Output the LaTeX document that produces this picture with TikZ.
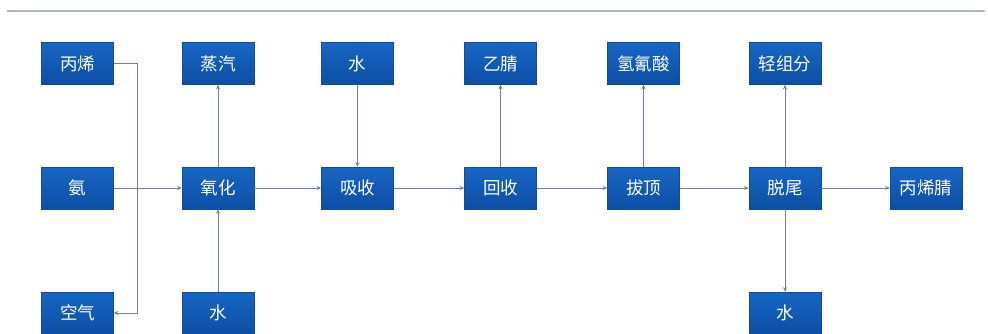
\documentclass[tikz,border=0pt]{standalone}
\usepackage{fontspec}
\newfontfamily\cjk{Noto Sans CJK SC}
\usepackage{xcolor}
\usetikzlibrary{calc}
\usetikzlibrary{arrows.meta}
\definecolor{boxblue}{HTML}{1766C4}
\definecolor{boxdark}{HTML}{0D4EA4}
\definecolor{linkgray}{HTML}{6E7FAE}
\definecolor{rulegray}{HTML}{A9B8C8}

\begin{document}
\begin{tikzpicture}[x = 1pt, y = -1pt]
				    \tikzstyle{step box}=[draw=boxdark,line width = .6pt,top color=boxblue,bottom color=boxdark,minimum width = 72pt,minimum height = 42pt,inner sep = 0pt,text=white,font=\cjk\fontsize{17.5}{17.5}\selectfont]
				    \tikzstyle{link}=[draw,line width = 1pt,linkgray,-{Stealth[length=4.5pt,width=4pt]}]
				    \useasboundingbox (0,0) rectangle (988,333);
				    \draw[rulegray,line width = 2.2pt] (7,11) -- (985,11);
				    % inputs
				    \node[step box] (propene) at (77.5,63.5) {丙烯};
				    \node[step box] (ammonia) at (77.5,188) {氨};
				    \node[step box] (air) at (77.5,313) {空气};
				    % main line
				    \node[step box] (oxid) at (218,188) {氧化};
				    \node[step box] (absorb) at (357.5,188) {吸收};
				    \node[step box] (recover) at (500.5,188) {回收};
				    \node[step box] (strip) at (643.5,188) {拔顶};
				    \node[step box] (tail) at (785,188) {脱尾};
				    \node[step box] (acn) at (926,188) {丙烯腈};
				    % side streams
				    \node[step box] (steam) at (218,63.5) {蒸汽};
				    \node[step box] (waterA) at (218,313) {水};
				    \node[step box] (waterB) at (357.5,63.5) {水};
				    \node[step box] (acetonitrile) at (500.5,63.5) {乙腈};
				    \node[step box] (hcn) at (643.5,63.5) {氢氰酸};
				    \node[step box] (light) at (785,63.5) {轻组分};
				    \node[step box] (waterC) at (785,313) {水};
				    \coordinate (bendT) at (137,63.5);
				    \coordinate (bendB) at (137,313);
				    \draw[link] (propene.east) -- (bendT) -- (bendB) -- (air.east);
				    \draw[link] (ammonia) -- (oxid);
				    \draw[link] (oxid) -- (steam);
				    \draw[link] (waterA) -- (oxid);
				    \draw[link] (oxid) -- (absorb);
				    \draw[link] (waterB) -- (absorb);
				    \draw[link] (absorb) -- (recover);
				    \draw[link] (recover) -- (acetonitrile);
				    \draw[link] (recover) -- (strip);
				    \draw[link] (strip) -- (hcn);
				    \draw[link] (strip) -- (tail);
				    \draw[link] (tail) -- (light);
				    \draw[link] (tail) -- (waterC);
				    \draw[link] (tail) -- (acn);
				\end{tikzpicture}
\end{document}
